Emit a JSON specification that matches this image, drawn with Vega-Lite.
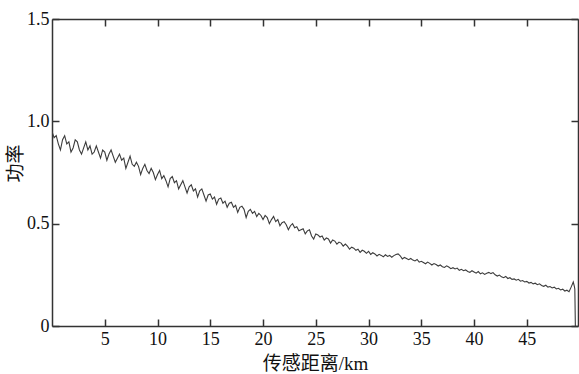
{
"$schema": "https://vega.github.io/schema/vega-lite/v6.json",
"autosize": "none",
"width": 526,
"height": 307,
"padding": {"left": 52, "top": 19, "right": 1, "bottom": 48},
"background": "white",
"data": {"values": [
{"km":0.0,"p":0.95},{"km":0.2,"p":0.92},{"km":0.4,"p":0.93},{"km":0.6,"p":0.89},{"km":0.8,"p":0.86},{"km":1.0,"p":0.91},{"km":1.2,"p":0.93},{"km":1.4,"p":0.89},{"km":1.6,"p":0.90},{"km":1.8,"p":0.85},
{"km":2.0,"p":0.87},{"km":2.2,"p":0.91},{"km":2.4,"p":0.90},{"km":2.6,"p":0.86},{"km":2.8,"p":0.84},{"km":3.0,"p":0.87},{"km":3.2,"p":0.90},{"km":3.4,"p":0.86},{"km":3.6,"p":0.88},{"km":3.8,"p":0.84},
{"km":4.0,"p":0.85},{"km":4.2,"p":0.88},{"km":4.4,"p":0.85},{"km":4.6,"p":0.82},{"km":4.8,"p":0.86},{"km":5.0,"p":0.85},{"km":5.2,"p":0.81},{"km":5.4,"p":0.84},{"km":5.6,"p":0.86},{"km":5.8,"p":0.83},
{"km":6.0,"p":0.80},{"km":6.2,"p":0.82},{"km":6.4,"p":0.84},{"km":6.6,"p":0.81},{"km":6.8,"p":0.82},{"km":7.0,"p":0.77},{"km":7.2,"p":0.80},{"km":7.4,"p":0.83},{"km":7.6,"p":0.79},{"km":7.8,"p":0.78},
{"km":8.0,"p":0.80},{"km":8.2,"p":0.78},{"km":8.4,"p":0.74},{"km":8.6,"p":0.77},{"km":8.8,"p":0.79},{"km":9.0,"p":0.76},{"km":9.2,"p":0.745},{"km":9.4,"p":0.77},{"km":9.6,"p":0.75},{"km":9.8,"p":0.715},
{"km":10.0,"p":0.74},{"km":10.2,"p":0.76},{"km":10.4,"p":0.72},{"km":10.6,"p":0.735},{"km":10.8,"p":0.71},{"km":11.0,"p":0.68},{"km":11.2,"p":0.72},{"km":11.4,"p":0.73},{"km":11.6,"p":0.70},{"km":11.8,"p":0.71},
{"km":12.0,"p":0.67},{"km":12.2,"p":0.69},{"km":12.4,"p":0.71},{"km":12.6,"p":0.68},{"km":12.8,"p":0.65},{"km":13.0,"p":0.68},{"km":13.2,"p":0.69},{"km":13.4,"p":0.66},{"km":13.6,"p":0.67},{"km":13.8,"p":0.63},
{"km":14.0,"p":0.66},{"km":14.2,"p":0.67},{"km":14.4,"p":0.64},{"km":14.6,"p":0.61},{"km":14.8,"p":0.64},{"km":15.0,"p":0.645},{"km":15.2,"p":0.62},{"km":15.4,"p":0.63},{"km":15.6,"p":0.595},{"km":15.8,"p":0.62},
{"km":16.0,"p":0.625},{"km":16.2,"p":0.60},{"km":16.4,"p":0.61},{"km":16.6,"p":0.58},{"km":16.8,"p":0.60},{"km":17.0,"p":0.605},{"km":17.2,"p":0.58},{"km":17.4,"p":0.59},{"km":17.6,"p":0.555},{"km":17.8,"p":0.58},
{"km":18.0,"p":0.585},{"km":18.2,"p":0.57},{"km":18.4,"p":0.53},{"km":18.6,"p":0.56},{"km":18.8,"p":0.57},{"km":19.0,"p":0.55},{"km":19.2,"p":0.56},{"km":19.4,"p":0.535},{"km":19.6,"p":0.55},{"km":19.8,"p":0.54},
{"km":20.0,"p":0.52},{"km":20.2,"p":0.54},{"km":20.4,"p":0.53},{"km":20.6,"p":0.50},{"km":20.8,"p":0.52},{"km":21.0,"p":0.535},{"km":21.2,"p":0.51},{"km":21.4,"p":0.52},{"km":21.6,"p":0.49},{"km":21.8,"p":0.505},
{"km":22.0,"p":0.51},{"km":22.2,"p":0.495},{"km":22.4,"p":0.47},{"km":22.6,"p":0.49},{"km":22.8,"p":0.50},{"km":23.0,"p":0.48},{"km":23.2,"p":0.485},{"km":23.4,"p":0.465},{"km":23.6,"p":0.47},{"km":23.8,"p":0.475},
{"km":24.0,"p":0.45},{"km":24.2,"p":0.465},{"km":24.4,"p":0.47},{"km":24.6,"p":0.44},{"km":24.8,"p":0.425},{"km":25.0,"p":0.45},{"km":25.2,"p":0.445},{"km":25.4,"p":0.435},{"km":25.6,"p":0.44},{"km":25.8,"p":0.42},
{"km":26.0,"p":0.43},{"km":26.2,"p":0.425},{"km":26.4,"p":0.405},{"km":26.6,"p":0.42},{"km":26.8,"p":0.415},{"km":27.0,"p":0.40},{"km":27.2,"p":0.41},{"km":27.4,"p":0.405},{"km":27.6,"p":0.39},{"km":27.8,"p":0.40},
{"km":28.0,"p":0.39},{"km":28.2,"p":0.375},{"km":28.4,"p":0.385},{"km":28.6,"p":0.38},{"km":28.8,"p":0.37},{"km":29.0,"p":0.375},{"km":29.2,"p":0.36},{"km":29.4,"p":0.37},{"km":29.6,"p":0.365},{"km":29.8,"p":0.355},
{"km":30.0,"p":0.365},{"km":30.2,"p":0.35},{"km":30.4,"p":0.358},{"km":30.6,"p":0.352},{"km":30.8,"p":0.342},{"km":31.0,"p":0.35},{"km":31.2,"p":0.345},{"km":31.4,"p":0.338},{"km":31.6,"p":0.348},{"km":31.8,"p":0.34},
{"km":32.0,"p":0.345},{"km":32.2,"p":0.336},{"km":32.4,"p":0.344},{"km":32.6,"p":0.349},{"km":32.8,"p":0.352},{"km":33.0,"p":0.343},{"km":33.2,"p":0.328},{"km":33.4,"p":0.335},{"km":33.6,"p":0.33},{"km":33.8,"p":0.324},
{"km":34.0,"p":0.33},{"km":34.2,"p":0.322},{"km":34.4,"p":0.318},{"km":34.6,"p":0.325},{"km":34.8,"p":0.312},{"km":35.0,"p":0.316},{"km":35.2,"p":0.31},{"km":35.4,"p":0.304},{"km":35.6,"p":0.312},{"km":35.8,"p":0.306},
{"km":36.0,"p":0.298},{"km":36.2,"p":0.305},{"km":36.4,"p":0.30},{"km":36.6,"p":0.293},{"km":36.8,"p":0.298},{"km":37.0,"p":0.29},{"km":37.2,"p":0.286},{"km":37.4,"p":0.294},{"km":37.6,"p":0.288},{"km":37.8,"p":0.28},
{"km":38.0,"p":0.285},{"km":38.2,"p":0.279},{"km":38.4,"p":0.283},{"km":38.6,"p":0.272},{"km":38.8,"p":0.277},{"km":39.0,"p":0.27},{"km":39.2,"p":0.274},{"km":39.4,"p":0.266},{"km":39.6,"p":0.262},{"km":39.8,"p":0.27},
{"km":40.0,"p":0.264},{"km":40.2,"p":0.258},{"km":40.4,"p":0.266},{"km":40.6,"p":0.255},{"km":40.8,"p":0.26},{"km":41.0,"p":0.252},{"km":41.2,"p":0.258},{"km":41.4,"p":0.262},{"km":41.6,"p":0.256},{"km":41.8,"p":0.261},
{"km":42.0,"p":0.25},{"km":42.2,"p":0.244},{"km":42.4,"p":0.249},{"km":42.6,"p":0.24},{"km":42.8,"p":0.236},{"km":43.0,"p":0.242},{"km":43.2,"p":0.232},{"km":43.4,"p":0.236},{"km":43.6,"p":0.228},{"km":43.8,"p":0.23},
{"km":44.0,"p":0.224},{"km":44.2,"p":0.228},{"km":44.4,"p":0.219},{"km":44.6,"p":0.222},{"km":44.8,"p":0.215},{"km":45.0,"p":0.218},{"km":45.2,"p":0.21},{"km":45.4,"p":0.213},{"km":45.6,"p":0.206},{"km":45.8,"p":0.209},
{"km":46.0,"p":0.202},{"km":46.2,"p":0.206},{"km":46.4,"p":0.198},{"km":46.6,"p":0.194},{"km":46.8,"p":0.199},{"km":47.0,"p":0.19},{"km":47.2,"p":0.193},{"km":47.4,"p":0.186},{"km":47.6,"p":0.19},{"km":47.8,"p":0.181},
{"km":48.0,"p":0.184},{"km":48.2,"p":0.176},{"km":48.4,"p":0.18},{"km":48.6,"p":0.171},{"km":48.8,"p":0.175},{"km":49.0,"p":0.168},{"km":49.2,"p":0.19},{"km":49.4,"p":0.215},{"km":49.5,"p":0.195},{"km":49.55,"p":0.18},{"km":49.6,"p":0.0}
]},
"encoding": {
  "x": {"field": "km", "type": "quantitative", "scale": {"domain": [0, 49.85], "nice": false, "zero": false}},
  "y": {"field": "p", "type": "quantitative", "scale": {"domain": [0, 1.5], "nice": false}}
},
"layer": [
  {
    "mark": {"type": "line", "color": "#3c3c3c", "strokeWidth": 1.1, "clip": true},
    "encoding": {
      "x": {"field": "km", "type": "quantitative", "axis": {"orient": "bottom", "values": [5,10,15,20,25,30,35,40,45], "grid": false, "tickSize": -7, "labelPadding": 11, "title": "传感距离/km", "titleY": 37, "titleBaseline": "middle"}},
      "y": {"field": "p", "type": "quantitative", "axis": {"orient": "left", "values": [0,0.5,1.0,1.5], "grid": false, "tickSize": -7, "labelPadding": 10, "labelExpr": "datum.value == 0 ? '0' : format(datum.value, '.1f')", "title": "功率", "titleX": -37, "titleY": 144, "titleAlign": "center", "titleBaseline": "middle"}}
    }
  },
  {
    "mark": {"type": "line", "opacity": 0},
    "encoding": {
      "x": {"field": "km", "type": "quantitative", "axis": {"orient": "top", "values": [5,10,15,20,25,30,35,40,45], "grid": false, "tickSize": -7, "labels": false, "title": null}},
      "y": {"field": "p", "type": "quantitative", "axis": {"orient": "right", "values": [0,0.5,1.0,1.5], "grid": false, "tickSize": -7, "labels": false, "title": null}}
    }
  }
],
"resolve": {"axis": {"x": "independent", "y": "independent"}},
"config": {
  "font": "Liberation Serif, Noto Sans CJK SC, serif",
  "view": {"stroke": null},
  "axis": {
    "domainColor": "#333333", "domainWidth": 1.5, "tickColor": "#333333", "tickWidth": 1.5,
    "labelFont": "Liberation Serif, serif", "labelFontSize": 18, "labelColor": "#111111",
    "titleFont": "Liberation Serif, Noto Sans CJK SC, serif", "titleFontSize": 19, "titleFontWeight": "normal", "titleColor": "#111111"
  }
}
}
